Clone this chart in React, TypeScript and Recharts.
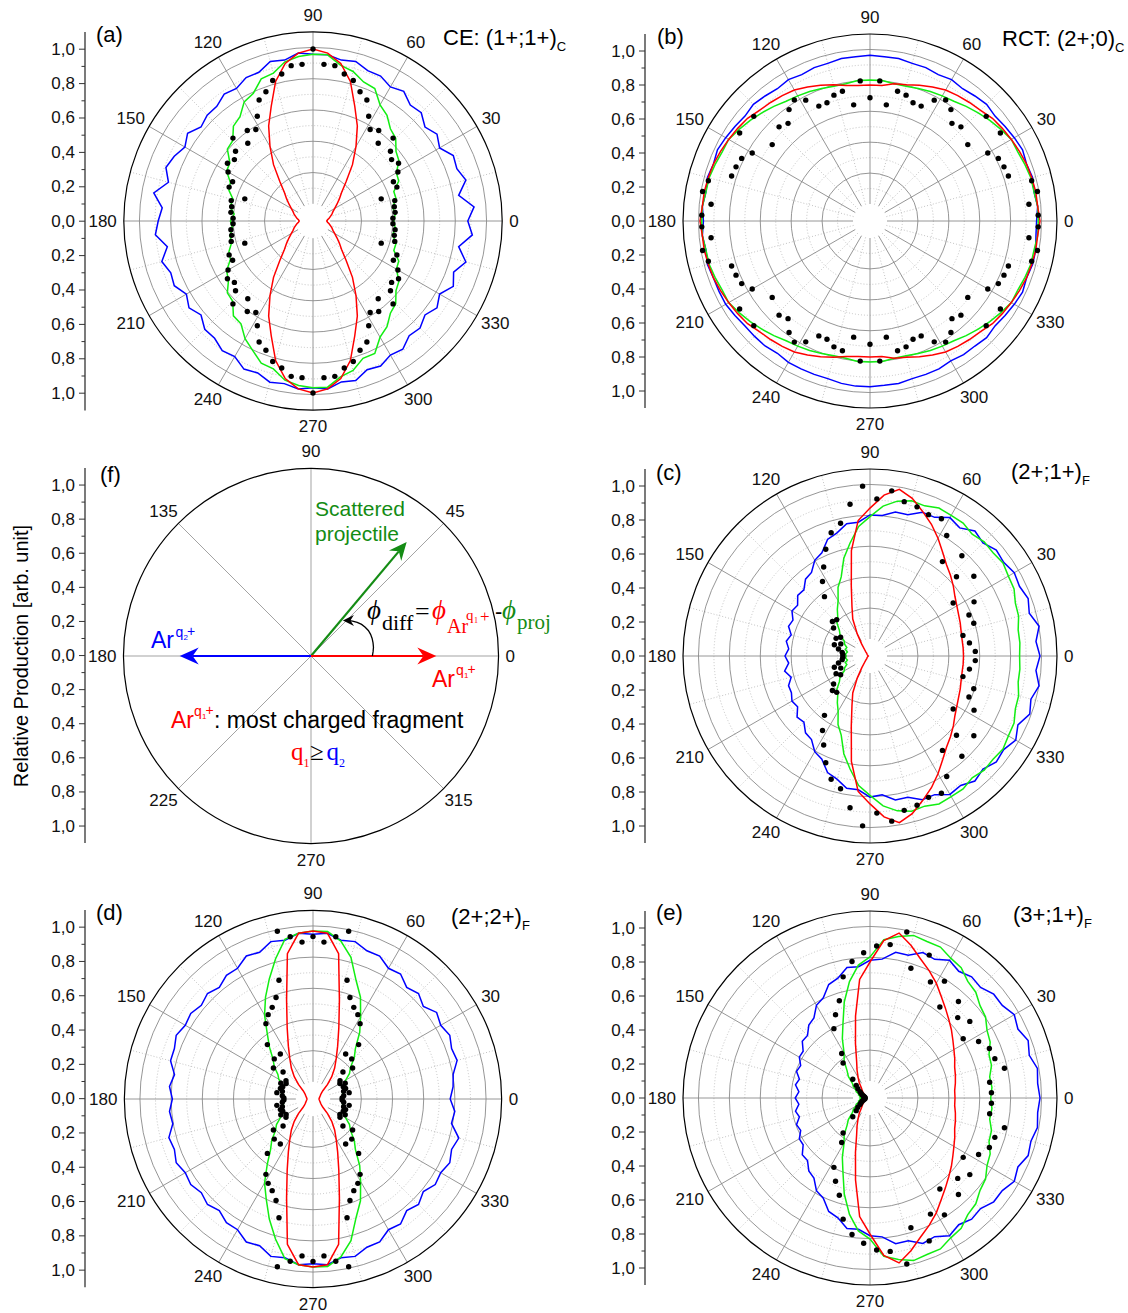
import React from 'react';
import {
  RadarChart,
  Radar,
  PolarGrid,
  PolarAngleAxis,
  PolarRadiusAxis,
  LineChart,
  Line,
  YAxis,
} from 'recharts';

const SANS = '"Liberation Sans", Arial, Helvetica, sans-serif';
const SERIF = '"Liberation Serif", "Times New Roman", serif';
const BLUE = '#0000ff';
const GREEN = '#12ee12';
const RED = '#ff0000';
const DARK_GREEN = '#148c14';

// angle grid of the curves (deg)
const ANGLES = [
  0, 5, 10, 15, 20, 25, 30, 35, 40, 45, 50, 55, 60, 65, 70, 75, 80, 85,
  90, 95, 100, 105, 110, 115, 120, 125, 130, 135, 140, 145, 150, 155, 160, 165, 170, 175,
  180, 185, 190, 195, 200, 205, 210, 215, 220, 225, 230, 235, 240, 245, 250, 255, 260, 265,
  270, 275, 280, 285, 290, 295, 300, 305, 310, 315, 320, 325, 330, 335, 340, 345, 350, 355,
];

// angles of the measured points, 4 deg bins (a, b, d) and 5 deg bins (c, e)
const DOT4 = [
  2, 6, 10, 14, 18, 22, 26, 30, 34, 38, 42, 46, 50, 54, 58, 62, 66, 70, 74, 78, 82, 86, 90,
  94, 98, 102, 106, 110, 114, 118, 122, 126, 130, 134, 138, 142, 146, 150, 154, 158, 162, 166, 170, 174, 178,
  182, 186, 190, 194, 198, 202, 206, 210, 214, 218, 222, 226, 230, 234, 238, 242, 246, 250, 254, 258, 262, 266, 270,
  274, 278, 282, 286, 290, 294, 298, 302, 306, 310, 314, 318, 322, 326, 330, 334, 338, 342, 346, 350, 354, 358,
];
const DOT5 = [
  2.5, 7.5, 12.5, 17.5, 22.5, 27.5, 32.5, 37.5, 42.5, 47.5, 52.5, 57.5, 62.5, 67.5, 72.5, 77.5, 82.5, 87.5,
  92.5, 97.5, 102.5, 107.5, 112.5, 117.5, 122.5, 127.5, 132.5, 137.5, 142.5, 147.5, 152.5, 157.5, 162.5, 167.5, 172.5, 177.5,
  182.5, 187.5, 192.5, 197.5, 202.5, 207.5, 212.5, 217.5, 222.5, 227.5, 232.5, 237.5, 242.5, 247.5, 252.5, 257.5, 262.5, 267.5,
  272.5, 277.5, 282.5, 287.5, 292.5, 297.5, 302.5, 307.5, 312.5, 317.5, 322.5, 327.5, 332.5, 337.5, 342.5, 347.5, 352.5, 357.5,
];

const MAJOR_ANGLES = [0, 30, 60, 90, 120, 150, 180, 210, 240, 270, 300, 330];
const MINOR_ANGLES = [15, 45, 75, 105, 135, 165, 195, 225, 255, 285, 315, 345];
const DIAG_ANGLES = [0, 45, 90, 135, 180, 225, 270, 315];
const MAJOR_RADII = [0.2, 0.4, 0.6, 0.8, 1.0];
const MINOR_RADII = [0.1, 0.3, 0.5, 0.7, 0.9];
const SIDE_TICKS = [
  -1, -0.9, -0.8, -0.7, -0.6, -0.5, -0.4, -0.3, -0.2, -0.1, 0,
  0.1, 0.2, 0.3, 0.4, 0.5, 0.6, 0.7, 0.8, 0.9, 1,
];
const SIDE_RANGE = [{ v: -1.1 }, { v: 1.1 }];

// (a) CE: (1+;1+)C
const A_BLUE = [
  .90, .94, .86, .92, .89, .90, .85, .88, .85, .89, .88, .92, .90, .93, .93, .96, .95, .97,
  .97, .98, .95, .96, .92, .92, .89, .90, .87, .87, .85, .89, .86, .89, .91, .87, .94, .88,
  .90, .92, .86, .91, .88, .89, .85, .88, .85, .89, .89, .92, .91, .95, .94, .97, .96, .98,
  .97, .98, .95, .96, .92, .93, .90, .91, .87, .88, .85, .88, .85, .90, .87, .92, .86, .93,
];
const A_GREEN = [
  .47, .48, .47, .50, .50, .55, .56, .61, .63, .68, .70, .75, .78, .85, .86, .90, .92, .97,
  .97, .96, .94, .89, .88, .82, .80, .74, .72, .66, .65, .59, .58, .53, .52, .48, .49, .46,
  .48, .47, .49, .49, .52, .53, .58, .60, .65, .66, .72, .73, .79, .83, .88, .89, .94, .96,
  .97, .97, .92, .90, .85, .85, .78, .75, .70, .68, .63, .61, .56, .55, .50, .50, .47, .48,
];
const A_RED = [
  .08, .085, .095, .105, .117, .128, .145, .17, .20, .235, .30, .40, .50, .61, .71, .84, .93, .98,
  1.0, .98, .93, .84, .71, .61, .50, .40, .30, .235, .20, .17, .145, .128, .117, .105, .095, .085,
  .08, .085, .095, .105, .117, .128, .145, .17, .20, .235, .30, .40, .50, .61, .71, .84, .93, .98,
  1.0, .98, .93, .84, .71, .61, .50, .40, .30, .235, .20, .17, .145, .128, .117, .105, .095, .085,
];
const A_DOTS = [
  .465, .48, .48, .49, .417, .526, .52, .57, .60, .58, .606, .67, .59, .65, .627, .69, .77, .80, .85, .874, .912, .913, 1.0,
  .913, .912, .874, .85, .80, .77, .69, .627, .65, .59, .67, .606, .58, .60, .57, .52, .526, .417, .49, .48, .48, .465,
  .465, .48, .48, .49, .417, .526, .52, .57, .60, .58, .606, .67, .59, .65, .627, .69, .77, .80, .85, .874, .912, .913, 1.0,
  .913, .912, .874, .85, .80, .77, .69, .627, .65, .59, .67, .606, .58, .60, .57, .52, .526, .417, .49, .48, .48, .465,
];

// (b) RCT: (2+;0)C
const B_BLUE = [
  .98, .99, .98, .99, .98, .99, .98, .97, .96, .97, .96, .95, .96, .95, .96, .96, .97, .97,
  .975, .97, .97, .96, .96, .95, .96, .95, .96, .97, .96, .97, .98, .99, .98, .99, .98, .99,
  .98, .99, .98, .99, .98, .98, .98, .97, .96, .96, .96, .95, .96, .96, .96, .96, .97, .975,
  .975, .97, .97, .96, .96, .96, .95, .96, .96, .97, .96, .97, .98, .99, .98, .99, .99, .98,
];
const B_GREEN = [
  .99, .99, .98, .98, .97, .96, .96, .94, .92, .90, .88, .86, .85, .84, .83, .82, .82, .83,
  .83, .83, .82, .82, .83, .84, .85, .86, .88, .90, .92, .94, .96, .96, .97, .98, .98, .99,
  .99, .99, .98, .98, .97, .96, .96, .94, .92, .90, .88, .86, .85, .84, .83, .82, .82, .83,
  .83, .83, .82, .82, .83, .84, .85, .86, .88, .90, .92, .94, .96, .96, .97, .98, .98, .99,
];
const B_RED = [
  1.0, .99, .99, .985, .98, .97, .96, .95, .94, .92, .91, .90, .89, .87, .85, .83, .82, .80,
  .80, .80, .81, .83, .85, .87, .89, .90, .91, .92, .94, .95, .96, .97, .98, .985, .99, .99,
  1.0, .99, .99, .985, .98, .97, .96, .95, .94, .92, .91, .90, .89, .87, .85, .83, .81, .80,
  .80, .80, .82, .83, .85, .87, .89, .90, .91, .92, .94, .95, .96, .97, .98, .985, .99, .99,
];
const B_DOTS = [
  .99, .94, 1.0, .98, .856, .85, .84, .80, .925, .73, .92, .77, .75, .81, .84, .805, .74, .74, .77, .78, .69, .826, .725,
  .826, .69, .78, .77, .74, .74, .805, .84, .81, .75, .77, .92, .73, .925, .80, .84, .85, .856, .98, 1.0, .94, .99,
  .99, .94, 1.0, .98, .856, .85, .84, .80, .925, .73, .92, .77, .75, .81, .84, .805, .74, .74, .77, .78, .69, .826, .725,
  .826, .69, .78, .77, .74, .74, .805, .84, .81, .75, .77, .92, .73, .925, .80, .84, .85, .856, .98, 1.0, .94, .99,
];

// (c) (2+;1+)F
const C_BLUE = [
  1.0, .98, 1.01, .97, .99, .97, .98, .96, .97, .94, .96, .92, .94, .90, .90, .86, .86, .83,
  .83, .79, .79, .75, .73, .67, .65, .60, .59, .55, .555, .52, .53, .50, .51, .48, .50, .48,
  .50, .48, .51, .48, .51, .51, .53, .52, .56, .55, .59, .60, .65, .67, .73, .75, .79, .79,
  .83, .82, .86, .86, .90, .90, .94, .93, .96, .94, .97, .96, .99, .96, 1.0, .98, 1.01, .98,
];
const C_GREEN = [
  .88, .885, .885, .905, .91, .935, .94, .955, .945, .95, .935, .955, .955, .96, .94, .945, .925, .885,
  .82, .765, .675, .595, .495, .445, .375, .335, .295, .275, .235, .215, .175, .165, .145, .15, .135, .145,
  .14, .145, .135, .15, .145, .165, .175, .215, .235, .275, .295, .335, .375, .445, .495, .595, .675, .765,
  .82, .885, .925, .945, .94, .96, .955, .955, .935, .95, .945, .955, .94, .935, .91, .905, .885, .885,
];
const C_RED = [
  .55, .55, .55, .555, .565, .575, .59, .61, .64, .67, .70, .745, .80, .855, .905, .96, .995, .95,
  .87, .80, .63, .425, .31, .24, .15, .085, .05, .035, .025, .022, .02, .018, .015, .013, .012, .011,
  .01, .011, .012, .013, .015, .018, .02, .022, .025, .035, .05, .085, .15, .24, .31, .425, .63, .80,
  .87, .95, .995, .96, .905, .855, .80, .745, .70, .67, .64, .61, .59, .575, .565, .555, .55, .55,
];
const C_DOTS = [
  .62, .59, .56, .64, .63, .69, .58, .77, .69, .80, .70, .84, .91, .90, .92, .93, .98, .925,
  1.0, .90, .80, .76, .68, .59, .52, .44, .29, .30, .27, .205, .225, .186, .22, .19, .165, .16,
  .16, .165, .19, .22, .186, .225, .205, .27, .30, .29, .44, .52, .59, .68, .76, .80, .90, 1.0,
  .925, .98, .93, .92, .90, .91, .84, .70, .80, .69, .77, .58, .69, .63, .64, .56, .59, .62,
];

// (d) (2+;2+)F
const D_BLUE = [
  .80, .82, .83, .87, .86, .88, .86, .88, .84, .87, .85, .89, .88, .92, .92, .95, .94, .97,
  .96, .97, .94, .95, .91, .92, .88, .88, .85, .87, .85, .87, .86, .88, .86, .86, .82, .84,
  .82, .84, .83, .87, .86, .88, .86, .87, .85, .87, .85, .88, .88, .92, .91, .95, .94, .97,
  .96, .97, .94, .95, .92, .92, .88, .89, .85, .87, .84, .87, .86, .88, .86, .88, .82, .83,
];
const D_GREEN = [
  .17, .175, .175, .19, .185, .21, .22, .26, .285, .34, .385, .475, .555, .655, .735, .855, .935, .98,
  .98, .97, .945, .845, .745, .655, .565, .465, .395, .33, .295, .25, .23, .20, .195, .18, .185, .165,
  .17, .175, .175, .19, .185, .21, .22, .26, .285, .34, .385, .465, .565, .645, .745, .845, .945, .97,
  .98, .98, .935, .855, .735, .655, .555, .475, .385, .34, .285, .26, .22, .21, .185, .19, .175, .175,
];
const D_RED = [
  .035, .036, .038, .04, .043, .047, .052, .06, .075, .12, .17, .22, .27, .34, .44, .595, .86, .97,
  .98, .97, .86, .595, .44, .34, .27, .22, .17, .12, .075, .06, .052, .047, .043, .04, .038, .036,
  .035, .036, .038, .04, .043, .047, .052, .06, .075, .12, .17, .22, .27, .34, .44, .595, .86, .97,
  .98, .97, .86, .595, .44, .34, .27, .22, .17, .12, .075, .06, .052, .047, .043, .04, .038, .036,
];
const D_DOTS = [
  .17, .18, .214, .184, .20, .19, .209, .181, .19, .293, .235, .325, .414, .324, .518, .557, .585, .63, .72, 1.0, .955, .917, .947,
  .917, .955, 1.0, .72, .63, .585, .557, .518, .324, .414, .325, .235, .293, .19, .181, .209, .19, .20, .184, .214, .18, .17,
  .17, .18, .214, .184, .20, .19, .209, .181, .19, .293, .235, .325, .414, .324, .518, .557, .585, .63, .72, 1.0, .955, .917, .947,
  .917, .955, 1.0, .72, .63, .585, .557, .518, .324, .414, .325, .235, .293, .19, .181, .209, .19, .20, .184, .214, .18, .17,
];

// (e) (3+;1+)F
const E_BLUE = [
  1.0, .99, 1.0, .97, .99, .96, .98, .95, .95, .92, .93, .91, .935, .90, .91, .87, .87, .82,
  .81, .775, .78, .73, .71, .65, .63, .575, .56, .52, .52, .48, .48, .45, .46, .43, .445, .42,
  .44, .42, .445, .43, .46, .45, .48, .48, .52, .52, .56, .575, .63, .65, .71, .73, .78, .775,
  .81, .82, .87, .87, .91, .90, .935, .91, .93, .92, .95, .95, .98, .96, .99, .98, 1.0, .99,
];
const E_GREEN = [
  .71, .72, .715, .74, .745, .78, .795, .83, .845, .88, .895, .935, .95, .98, .98, .99, .965, .935,
  .83, .785, .695, .585, .465, .385, .305, .265, .21, .18, .135, .12, .095, .09, .07, .07, .055, .06,
  .053, .06, .055, .07, .07, .09, .095, .12, .135, .18, .21, .265, .305, .385, .465, .585, .695, .785,
  .83, .935, .965, .99, .98, .98, .95, .935, .895, .88, .845, .83, .795, .78, .745, .74, .715, .72,
];
const E_RED = [
  .50, .50, .51, .52, .53, .55, .57, .595, .625, .655, .69, .73, .78, .825, .87, .93, .985, .93,
  .80, .70, .49, .33, .23, .18, .14, .11, .08, .065, .055, .045, .04, .035, .03, .028, .026, .025,
  .025, .025, .026, .028, .03, .035, .04, .045, .055, .065, .08, .11, .14, .18, .23, .33, .49, .70,
  .80, .93, .985, .93, .87, .825, .78, .73, .69, .655, .625, .595, .57, .55, .53, .52, .51, .50,
];
const E_DOTS = [
  .715, .71, .81, .77, .76, .72, .65, .74, .70, .77, .675, .815, .77, .91, .80, 1.0, .91, .895,
  .855, .81, .73, .60, .53, .46, .31, .26, .15, .11, .09, .07, .06, .05, .04, .035, .03, .03,
  .03, .03, .035, .04, .05, .06, .07, .09, .11, .15, .26, .31, .46, .53, .60, .73, .81, .855,
  .895, .91, 1.0, .80, .91, .77, .815, .675, .77, .70, .74, .65, .72, .76, .77, .81, .71, .715,
];

// (f) sketch: arrows (angle, length) and the phi_diff arc
const ARROW_RED = [{ a: 0, r: 0 }, { a: 0, r: 0.735 }];
const ARROW_BLUE = [{ a: 180, r: 0 }, { a: 180, r: 0.77 }];
const ARROW_GREEN = [{ a: 50, r: 0 }, { a: 50, r: 0.873 }];
const ARC_ANGLES = [0, 4, 8, 12, 16, 20, 24, 28, 32, 36, 40, 44, 48];
const ARC_R = [.36, .365, .37, .372, .373, .372, .368, .36, .35, .335, .318, .30, .28];

type Row = Record<string, number>;

const curveRows = (b: number[], g: number[], r: number[]): Row[] =>
  ANGLES.map((a, i) => ({ a, b: b[i], g: g[i], r: r[i] }));
const dotRows = (angles: number[], v: number[]): Row[] => angles.map((a, i) => ({ a, v: v[i] }));

interface PanelDef {
  cx: number;
  cy: number;
  unit: number;
  axisX: number;
  curves: Row[];
  dots: Row[];
}

const PANELS: PanelDef[] = [
  { cx: 313, cy: 221, unit: 172, axisX: 85, curves: curveRows(A_BLUE, A_GREEN, A_RED), dots: dotRows(DOT4, A_DOTS) },
  { cx: 870, cy: 221, unit: 170, axisX: 645, curves: curveRows(B_BLUE, B_GREEN, B_RED), dots: dotRows(DOT4, B_DOTS) },
  { cx: 870, cy: 656, unit: 170, axisX: 645, curves: curveRows(C_BLUE, C_GREEN, C_RED), dots: dotRows(DOT5, C_DOTS) },
  { cx: 313, cy: 1098.5, unit: 171.5, axisX: 85, curves: curveRows(D_BLUE, D_GREEN, D_RED), dots: dotRows(DOT4, D_DOTS) },
  { cx: 870, cy: 1098, unit: 170, axisX: 645, curves: curveRows(E_BLUE, E_GREEN, E_RED), dots: dotRows(DOT5, E_DOTS) },
];
const F = { cx: 311, cy: 656, unit: 170.5, axisX: 85 };

const SIZE = 480;
const HALF = SIZE / 2;
const NO_MARGIN = { top: 0, right: 0, bottom: 0, left: 0 };

const angleTick = (props: any) => {
  const { x, y, payload } = props;
  const label = String(payload.value);
  const rad = (payload.coordinate * Math.PI) / 180;
  const w = label.length * 9.45;
  return (
    <text
      x={x + Math.cos(rad) * (w / 2 - 1)}
      y={y - Math.sin(rad) * 8.5}
      textAnchor="middle"
      dominantBaseline="central"
      fontSize={17}
      fill="#111"
    >
      {label}
    </text>
  );
};

const sideTick = (props: any) => {
  const { x, y, payload } = props;
  const v = payload.value as number;
  const major = Math.round(Math.abs(v) * 10) % 2 === 0;
  return (
    <g>
      <line x1={x} x2={x - (major ? 6 : 3.5)} y1={y} y2={y} stroke="#333" strokeWidth={1} />
      {major && (
        <text x={x - 10} y={y} textAnchor="end" dominantBaseline="central" fontSize={17} fill="#111">
          {Math.abs(v).toFixed(1).replace('.', ',')}
        </text>
      )}
    </g>
  );
};

function SideAxis({ x, cy, unit }: { x: number; cy: number; unit: number }) {
  const h = unit * 2.2;
  return (
    <div style={{ position: 'absolute', left: x - 60, top: cy - unit * 1.1 - 10 }}>
      <LineChart width={64} height={h + 20} data={SIDE_RANGE} margin={{ top: 10, right: 2, bottom: 10, left: 0 }}>
        <YAxis
          type="number"
          dataKey="v"
          domain={[-1.1, 1.1]}
          ticks={SIDE_TICKS}
          interval={0}
          width={60}
          tickSize={0}
          tickMargin={0}
          tickLine={false}
          axisLine={{ stroke: '#333', strokeWidth: 1.3 }}
          tick={sideTick}
          allowDataOverflow
        />
        <Line dataKey="v" stroke="none" dot={false} isAnimationActive={false} />
      </LineChart>
    </div>
  );
}

function Layer({ cx, cy, children }: { cx: number; cy: number; children: React.ReactNode }) {
  return <div style={{ position: 'absolute', left: cx - HALF, top: cy - HALF, width: SIZE, height: SIZE }}>{children}</div>;
}

function PolarPanel({ p }: { p: PanelDef }) {
  const R = p.unit * 1.1;
  const hole = p.unit * 0.1;
  return (
    <>
      <Layer cx={p.cx} cy={p.cy}>
        <RadarChart width={SIZE} height={SIZE} cx={HALF} cy={HALF} startAngle={0} endAngle={360}
          innerRadius={hole} outerRadius={R} data={p.dots} margin={NO_MARGIN}>
          <PolarGrid gridType="circle" stroke="#c4c4c4" strokeDasharray="1 2" />
          <PolarAngleAxis type="number" dataKey="a" domain={[0, 360]} ticks={MINOR_ANGLES} tick={false} tickLine={false} axisLine={false} />
          <PolarRadiusAxis type="number" domain={[0.1, 1.1]} ticks={MINOR_RADII} tick={false} axisLine={false} allowDataOverflow />
        </RadarChart>
      </Layer>
      <Layer cx={p.cx} cy={p.cy}>
        <RadarChart width={SIZE} height={SIZE} cx={HALF} cy={HALF} startAngle={0} endAngle={360}
          innerRadius={hole} outerRadius={R} data={p.dots} margin={NO_MARGIN}>
          <PolarGrid gridType="circle" stroke="#8a8a8a" strokeWidth={0.9} />
          <PolarAngleAxis type="number" dataKey="a" domain={[0, 360]} ticks={MAJOR_ANGLES} tick={angleTick} tickSize={8}
            tickLine={false} axisLineType="circle" axisLine={{ stroke: '#000', strokeWidth: 1.2 }} />
          <PolarRadiusAxis type="number" domain={[0.1, 1.1]} ticks={MAJOR_RADII} tick={false} axisLine={false} allowDataOverflow />
        </RadarChart>
      </Layer>
      <Layer cx={p.cx} cy={p.cy}>
        <RadarChart width={SIZE} height={SIZE} cx={HALF} cy={HALF} startAngle={0} endAngle={360}
          innerRadius={0} outerRadius={R} data={p.curves} margin={NO_MARGIN}>
          <PolarAngleAxis type="number" dataKey="a" domain={[0, 360]} tick={false} tickLine={false} axisLine={false} />
          <PolarRadiusAxis type="number" domain={[0, 1.1]} tick={false} axisLine={false} allowDataOverflow />
          <Radar dataKey="b" stroke={BLUE} strokeWidth={1.5} fill="none" dot={false} isAnimationActive={false} />
          <Radar dataKey="g" stroke={GREEN} strokeWidth={1.5} fill="none" dot={false} isAnimationActive={false} />
          <Radar dataKey="r" stroke={RED} strokeWidth={1.5} fill="none" dot={false} isAnimationActive={false} />
        </RadarChart>
      </Layer>
      <Layer cx={p.cx} cy={p.cy}>
        <RadarChart width={SIZE} height={SIZE} cx={HALF} cy={HALF} startAngle={0} endAngle={360}
          innerRadius={0} outerRadius={R} data={p.dots} margin={NO_MARGIN}>
          <PolarAngleAxis type="number" dataKey="a" domain={[0, 360]} tick={false} tickLine={false} axisLine={false} />
          <PolarRadiusAxis type="number" domain={[0, 1.1]} tick={false} axisLine={false} allowDataOverflow />
          <Radar dataKey="v" stroke="none" fill="none" dot={{ r: 2.7, fill: '#000', stroke: 'none' }} isAnimationActive={false} />
        </RadarChart>
      </Layer>
      <SideAxis x={p.axisX} cy={p.cy} unit={p.unit} />
    </>
  );
}

// open polyline with a swept arrowhead at its last point
const arrowShape = (color: string, width: number, len: number, half: number) => (props: any) => {
  const pts: { x: number; y: number }[] = props.points || [];
  if (pts.length < 2) return <g />;
  const tip = pts[pts.length - 1];
  const prev = pts[pts.length - 2];
  const dx = tip.x - prev.x;
  const dy = tip.y - prev.y;
  const d = Math.hypot(dx, dy) || 1;
  const ux = dx / d;
  const uy = dy / d;
  const nx = -uy;
  const ny = ux;
  const bx = tip.x - ux * len;
  const by = tip.y - uy * len;
  const kx = tip.x - ux * len * 0.68;
  const ky = tip.y - uy * len * 0.68;
  const line = pts.slice(0, -1).map((p, i) => `${i ? 'L' : 'M'}${p.x},${p.y}`).join(' ') + ` L${kx},${ky}`;
  const head = `M${tip.x},${tip.y} L${bx + nx * half},${by + ny * half} L${kx},${ky} L${bx - nx * half},${by - ny * half} Z`;
  return (
    <g>
      <path d={line} fill="none" stroke={color} strokeWidth={width} />
      <path d={head} fill={color} stroke="none" />
    </g>
  );
};

function ArrowLayer({ data, shape }: { data: Row[]; shape: (p: any) => React.ReactElement }) {
  return (
    <Layer cx={F.cx} cy={F.cy}>
      <RadarChart width={SIZE} height={SIZE} cx={HALF} cy={HALF} startAngle={0} endAngle={360}
        innerRadius={0} outerRadius={F.unit * 1.1} data={data} margin={NO_MARGIN}>
        <PolarAngleAxis type="number" dataKey="a" domain={[0, 360]} tick={false} tickLine={false} axisLine={false} />
        <PolarRadiusAxis type="number" domain={[0, 1.1]} tick={false} axisLine={false} allowDataOverflow />
        <Radar dataKey="r" shape={shape} dot={false} isAnimationActive={false} />
      </RadarChart>
    </Layer>
  );
}

function SketchPanel() {
  const arc = ARC_ANGLES.map((a, i) => ({ a, r: ARC_R[i] }));
  return (
    <>
      <Layer cx={F.cx} cy={F.cy}>
        <RadarChart width={SIZE} height={SIZE} cx={HALF} cy={HALF} startAngle={0} endAngle={360}
          innerRadius={0} outerRadius={F.unit * 1.1} data={ARROW_RED} margin={NO_MARGIN}>
          <PolarGrid gridType="circle" polarRadius={[]} stroke="#999" strokeWidth={0.9} />
          <PolarAngleAxis type="number" dataKey="a" domain={[0, 360]} ticks={DIAG_ANGLES} tick={angleTick} tickSize={8}
            tickLine={false} axisLineType="circle" axisLine={{ stroke: '#000', strokeWidth: 1.2 }} />
          <PolarRadiusAxis type="number" domain={[0, 1.1]} tick={false} axisLine={false} allowDataOverflow />
        </RadarChart>
      </Layer>
      <ArrowLayer data={ARROW_GREEN} shape={arrowShape(DARK_GREEN, 2.2, 18, 8)} />
      <ArrowLayer data={ARROW_RED} shape={arrowShape(RED, 2.2, 19, 8.5)} />
      <ArrowLayer data={ARROW_BLUE} shape={arrowShape(BLUE, 2.2, 19, 8.5)} />
      <ArrowLayer data={arc} shape={arrowShape('#000', 1.3, 11, 5.5)} />
      <SideAxis x={F.axisX} cy={F.cy} unit={F.unit} />
    </>
  );
}

function T({
  x, b, size, color = '#000', serif = false, italic = false, children,
}: {
  x: number; b: number; size: number; color?: string; serif?: boolean; italic?: boolean; children: React.ReactNode;
}) {
  const top = b - (serif ? 0.8375 : 0.8465) * size;
  return (
    <div style={{
      position: 'absolute', left: x, top, fontSize: size, lineHeight: 1, color,
      fontFamily: serif ? SERIF : SANS, fontStyle: italic ? 'italic' : 'normal', whiteSpace: 'nowrap',
    }}>
      {children}
    </div>
  );
}

const Sub = ({ children }: { children: React.ReactNode }) => (
  <span style={{ fontSize: 13, position: 'relative', top: 6 }}>{children}</span>
);

export default function App() {
  return (
    <div style={{
      position: 'absolute', left: 0, top: 0, width: 1128, height: 1313, background: '#fff',
      fontFamily: SANS, color: '#000', overflow: 'hidden',
    }}>
      {PANELS.map((p, i) => <PolarPanel key={i} p={p} />)}
      <SketchPanel />

      <T x={96} b={43} size={22}>(a)</T>
      <T x={443} b={46} size={22}>CE: (1+;1+)<Sub>C</Sub></T>
      <T x={657} b={45} size={22}>(b)</T>
      <T x={1002} b={47} size={22}>RCT: (2+;0)<Sub>C</Sub></T>
      <T x={100} b={483} size={22}>(f)</T>
      <T x={656} b={481} size={22}>(c)</T>
      <T x={1011} b={480} size={22}>(2+;1+)<Sub>F</Sub></T>
      <T x={96} b={921} size={22}>(d)</T>
      <T x={451} b={925} size={22}>(2+;2+)<Sub>F</Sub></T>
      <T x={656} b={921} size={22}>(e)</T>
      <T x={1013} b={923} size={22}>(3+;1+)<Sub>F</Sub></T>

      <div style={{
        position: 'absolute', left: 21, top: 656, transform: 'translate(-50%, -50%) rotate(-90deg)',
        fontSize: 20, whiteSpace: 'nowrap', fontFamily: SANS,
      }}>
        Relative Production [arb. unit]
      </div>

      {/* sketch (f) annotations */}
      <T x={315} b={516} size={21} color={DARK_GREEN}>Scattered</T>
      <T x={315} b={541} size={21} color={DARK_GREEN}>projectile</T>

      <T x={151} b={648} size={23} color={BLUE}>Ar</T>
      <T x={175.5} b={637} size={14} color={BLUE}>q</T>
      <T x={183.5} b={641} size={8} color={BLUE}>2</T>
      <T x={187} b={636} size={14} color={BLUE}>+</T>

      <T x={432} b={687} size={23} color={RED}>Ar</T>
      <T x={456} b={675} size={14} color={RED}>q</T>
      <T x={464} b={679} size={8} color={RED}>1</T>
      <T x={467.5} b={674} size={14} color={RED}>+</T>

      <T x={367} b={620} size={27} serif italic>ϕ</T>
      <T x={382} b={630} size={22} serif>diff</T>
      <T x={415} b={621} size={26} serif>=</T>
      <T x={432} b={620} size={27} serif italic color={RED}>ϕ</T>
      <T x={447} b={633} size={20} serif color={RED}>Ar</T>
      <T x={466} b={621} size={15} serif color={RED}>q</T>
      <T x={474} b={624} size={8} serif color={RED}>1</T>
      <T x={480} b={622} size={17} serif color={RED}>+</T>
      <T x={495} b={620} size={22}>-</T>
      <T x={502} b={620} size={27} serif italic color={DARK_GREEN}>ϕ</T>
      <T x={517} b={630} size={21} serif color={DARK_GREEN}>proj</T>

      <T x={171} b={728} size={23} color={RED}>Ar</T>
      <T x={194} b={716} size={14} color={RED}>q</T>
      <T x={202} b={720} size={8} color={RED}>1</T>
      <T x={205.5} b={715} size={14} color={RED}>+</T>
      <T x={214} b={728} size={23}>: most charged fragment</T>

      <T x={291} b={760} size={25} serif color={RED}>q</T>
      <T x={303.5} b={767} size={12} serif color={RED}>1</T>
      <T x={310} b={760} size={25} serif>≥</T>
      <T x={326.5} b={760} size={25} serif color={BLUE}>q</T>
      <T x={339} b={767} size={12} serif color={BLUE}>2</T>
    </div>
  );
}
